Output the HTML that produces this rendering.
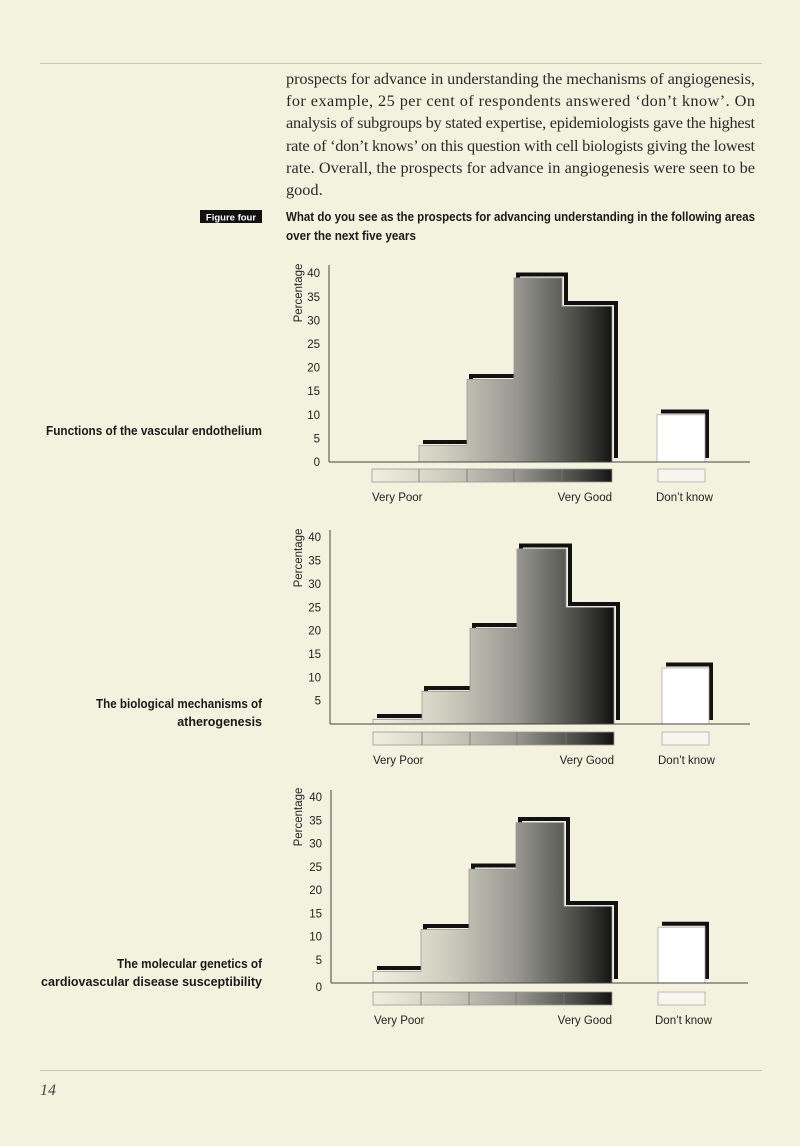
<!DOCTYPE html>
<html><head><meta charset="utf-8"><style>
html,body{margin:0;padding:0;background:#f2f2df;}
svg{display:block}
.s{font-family:"Liberation Sans",sans-serif}
.t{font-family:"Liberation Sans",sans-serif;font-size:11.5px;fill:#222}
.p{font-family:"Liberation Serif",serif;font-size:16.3px;fill:#2a2a2a}
.b{font-family:"Liberation Sans",sans-serif;font-size:12.5px;font-weight:bold;fill:#1a1a1a}
</style></head><body>
<svg width="800" height="1146" viewBox="0 0 800 1146" xmlns="http://www.w3.org/2000/svg">
<defs>
<linearGradient id="g" gradientUnits="userSpaceOnUse" x1="372" y1="0" x2="614" y2="0">
<stop offset="0" stop-color="#f0f0e0"/><stop offset="0.3" stop-color="#cfcfc0"/><stop offset="0.6" stop-color="#979790"/><stop offset="0.85" stop-color="#4a4a46"/><stop offset="1" stop-color="#111"/>
</linearGradient>
</defs>
<rect width="800" height="1146" fill="#f2f2df"/>
<line x1="40" y1="63.5" x2="762" y2="63.5" stroke="#c8c8b8" stroke-width="1"/>
<line x1="40" y1="1070.5" x2="762" y2="1070.5" stroke="#c8c8b8" stroke-width="1"/>
<text x="40" y="1095" font-family="Liberation Serif,serif" font-style="italic" font-size="16" fill="#444">14</text>

<text class="p" x="286" y="84" textLength="469" lengthAdjust="spacing">prospects for advance in understanding the mechanisms of angiogenesis,</text>
<text class="p" x="286" y="106" textLength="469" lengthAdjust="spacing">for example, 25 per cent of respondents answered ‘don’t know’. On</text>
<text class="p" x="286" y="128" textLength="469" lengthAdjust="spacing">analysis of subgroups by stated expertise, epidemiologists gave the highest</text>
<text class="p" x="286" y="151" textLength="469" lengthAdjust="spacing">rate of ‘don’t knows’ on this question with cell biologists giving the lowest</text>
<text class="p" x="286" y="173" textLength="469" lengthAdjust="spacing">rate. Overall, the prospects for advance in angiogenesis were seen to be</text>
<text class="p" x="286" y="195">good.</text>

<rect x="200" y="210" width="62" height="13" fill="#111"/>
<text x="231" y="220.5" text-anchor="middle" class="s" font-size="9.5" font-weight="bold" fill="#fff">Figure four</text>
<text class="b" x="286" y="221" textLength="469" lengthAdjust="spacingAndGlyphs">What do you see as the prospects for advancing understanding in the following areas</text>
<text class="b" x="286" y="240" textLength="130" lengthAdjust="spacingAndGlyphs">over the next five years</text>

<text class="b" x="46" y="435" textLength="216" lengthAdjust="spacingAndGlyphs">Functions of the vascular endothelium</text>
<text class="b" x="96" y="708" textLength="166" lengthAdjust="spacingAndGlyphs">The biological mechanisms of</text>
<text class="b" x="262" y="726" text-anchor="end">atherogenesis</text>
<text class="b" x="117" y="968" textLength="145" lengthAdjust="spacingAndGlyphs">The molecular genetics of</text>
<text class="b" x="262" y="986" text-anchor="end" font-size="12">cardiovascular disease susceptibility</text>

<!-- Chart 1 -->
<g>
<path d="M423,442 H471 V376 H518 V274.5 H566 V303 H616 V458" fill="none" stroke="#111" stroke-width="4"/>
<path d="M661,411.5 H707 V458" fill="none" stroke="#111" stroke-width="4"/>
<path d="M419,462 V445.5 H467 V379.4 H514 V277.9 H562 V306.2 H612 V462 Z" fill="url(#g)" stroke="#999" stroke-width="0.8"/>
<rect x="657" y="414.8" width="48" height="47.2" fill="#fff" stroke="#aaa" stroke-width="0.8"/>
<line x1="329" y1="265" x2="329" y2="462" stroke="#444"/>
<line x1="329" y1="462" x2="750" y2="462" stroke="#444"/>
<g class="t" text-anchor="end">
<text x="320" y="466">0</text><text x="320" y="442.4">5</text><text x="320" y="418.8">10</text><text x="320" y="395.2">15</text><text x="320" y="371.6">20</text><text x="320" y="348">25</text><text x="320" y="324.4">30</text><text x="320" y="300.8">35</text><text x="320" y="277.2">40</text>
</g>
<text class="t" font-size="10.5" transform="translate(302,293) rotate(-90)" text-anchor="middle">Percentage</text>
<rect x="372" y="469" width="240" height="13" fill="url(#g)" stroke="#999" stroke-width="0.8"/>
<path d="M419,469V482M467,469V482M514,469V482M562,469V482" stroke="#777" stroke-width="0.8"/>
<rect x="658" y="469" width="47" height="13" fill="#f6f6ee" stroke="#aaa" stroke-width="0.8"/>
<text class="t" x="372" y="501">Very Poor</text><text class="t" x="612" y="501" text-anchor="end">Very Good</text><text class="t" x="656" y="501">Don’t know</text>
</g>

<!-- Chart 2 -->
<g>
<path d="M377,716 H426 V688 H474 V625 H521 V545.5 H570 V604 H618 V720" fill="none" stroke="#111" stroke-width="4"/>
<path d="M666,664.5 H711 V720" fill="none" stroke="#111" stroke-width="4"/>
<path d="M373,724 V719.3 H422 V691.3 H470 V628.3 H517 V548.9 H566 V607.3 H614 V724 Z" fill="url(#g)" stroke="#999" stroke-width="0.8"/>
<rect x="662" y="668" width="47" height="56" fill="#fff" stroke="#aaa" stroke-width="0.8"/>
<line x1="330" y1="530" x2="330" y2="724" stroke="#444"/>
<line x1="330" y1="724" x2="750" y2="724" stroke="#444"/>
<g class="t" text-anchor="end">
<text x="321" y="704.6">5</text><text x="321" y="681.3">10</text><text x="321" y="658">15</text><text x="321" y="634.6">20</text><text x="321" y="611.3">25</text><text x="321" y="588">30</text><text x="321" y="564.6">35</text><text x="321" y="541.2">40</text>
</g>
<text class="t" font-size="10.5" transform="translate(302,558) rotate(-90)" text-anchor="middle">Percentage</text>
<rect x="373" y="732" width="241" height="13" fill="url(#g)" stroke="#999" stroke-width="0.8"/>
<path d="M422,732V745M470,732V745M517,732V745M566,732V745" stroke="#777" stroke-width="0.8"/>
<rect x="662" y="732" width="47" height="13" fill="#f6f6ee" stroke="#aaa" stroke-width="0.8"/>
<text class="t" x="373" y="764">Very Poor</text><text class="t" x="614" y="764" text-anchor="end">Very Good</text><text class="t" x="658" y="764">Don’t know</text>
</g>

<!-- Chart 3 -->
<g>
<path d="M377,968 H425 V926 H473 V865.5 H520 V819 H568 V903 H616 V979" fill="none" stroke="#111" stroke-width="4"/>
<path d="M662,923.8 H707 V979" fill="none" stroke="#111" stroke-width="4"/>
<path d="M373,983 V971.4 H421 V929.5 H469 V869.1 H516 V822.6 H564 V906.3 H612 V983 Z" fill="url(#g)" stroke="#999" stroke-width="0.8"/>
<rect x="658" y="927.2" width="47" height="55.8" fill="#fff" stroke="#aaa" stroke-width="0.8"/>
<line x1="331" y1="790" x2="331" y2="983" stroke="#444"/>
<line x1="331" y1="983" x2="748" y2="983" stroke="#444"/>
<g class="t" text-anchor="end">
<text x="322" y="991">0</text><text x="322" y="963.8">5</text><text x="322" y="940.5">10</text><text x="322" y="917.3">15</text><text x="322" y="894">20</text><text x="322" y="870.8">25</text><text x="322" y="847.5">30</text><text x="322" y="824.3">35</text><text x="322" y="801">40</text>
</g>
<text class="t" font-size="10.5" transform="translate(302,817) rotate(-90)" text-anchor="middle">Percentage</text>
<rect x="373" y="992" width="239" height="13" fill="url(#g)" stroke="#999" stroke-width="0.8"/>
<path d="M421,992V1005M469,992V1005M516,992V1005M564,992V1005" stroke="#777" stroke-width="0.8"/>
<rect x="658" y="992" width="47" height="13" fill="#f6f6ee" stroke="#aaa" stroke-width="0.8"/>
<text class="t" x="374" y="1024">Very Poor</text><text class="t" x="612" y="1024" text-anchor="end">Very Good</text><text class="t" x="655" y="1024">Don’t know</text>
</g>
</svg>
</body></html>
